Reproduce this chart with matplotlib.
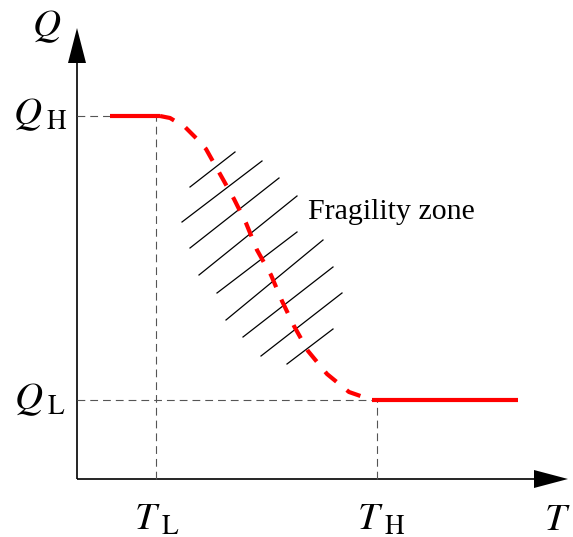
import matplotlib
matplotlib.use("Agg")
import matplotlib.pyplot as plt

plt.rcParams['mathtext.fontset'] = 'stix'

# key levels (units: px from origin of the drawn axes)
T_L, T_H = 79, 300
Q_H, Q_L = 363, 79
x_max, y_max = 491, 451

# Q(T) curve: flat at Q_H, fragile transition (dashed), flat at Q_L
left_x = [33, 83]
right_x = [295, 441]
trans_x = [83, 93, 108, 121, 129, 143, 157, 169, 180, 194, 205, 217, 231, 250, 272, 295]
trans_y = [363, 361, 352, 339, 330, 305, 280, 256, 229, 204, 178, 153, 128, 105, 87, 79]

# hatch segments of the fragility zone
hatch_x0 = [113, 105, 113, 122, 140, 149, 166, 184, 210]
hatch_y0 = [292, 257, 231, 204, 186, 159, 142, 123, 115]
hatch_x1 = [158, 185, 202, 220, 220, 246, 256, 265, 256]
hatch_y1 = [327, 318, 301, 283, 247, 239, 212, 186, 150]

fig = plt.figure(figsize=(5.73, 5.37), dpi=100)
ax = fig.add_axes([0, 0, 1, 1])
ax.set_xlim(-77, 496)
ax.set_ylim(-58, 479)
ax.axis('off')

# axes with arrow heads
ax.plot([0, x_max - 34], [0, 0], color='black', lw=1.2, solid_capstyle='butt')
ax.plot([0, 0], [0, y_max - 35], color='black', lw=1.2, solid_capstyle='butt')
ax.fill([x_max - 34, x_max, x_max - 34], [-9, 0, 9], color='black', lw=0)
ax.fill([-9, 0, 9], [y_max - 35, y_max, y_max - 35], color='black', lw=0)

# guide lines
gkw = dict(color='#555555', lw=0.8, dashes=(7, 4.5))
ax.plot([0, left_x[0]], [Q_H, Q_H], **gkw)
ax.plot([T_L, T_L], [0, Q_H], **gkw)
ax.plot([0, right_x[0]], [Q_L, Q_L], **gkw)
ax.plot([T_H, T_H], [0, Q_L], **gkw)

# hatching
for a, b, c, d in zip(hatch_x0, hatch_y0, hatch_x1, hatch_y1):
    ax.plot([a, c], [b, d], color='black', lw=0.9)

# red curve
ax.plot(left_x, [Q_H, Q_H], color='red', lw=3, solid_capstyle='butt')
ax.plot(right_x, [Q_L, Q_L], color='red', lw=3, solid_capstyle='butt')
ax.plot(trans_x, trans_y, color='red', lw=3, dashes=(3.6, 3.2))

# labels
fs = 28
ax.text(-30, 453, r'$Q$', fontsize=fs, ha='center', va='center')
ax.text(-37, 365, r'$Q_{\;\mathrm{H}}$', fontsize=fs, ha='center', va='center')
ax.text(-37, 80, r'$Q_{\;\mathrm{L}}$', fontsize=fs, ha='center', va='center')
ax.text(T_L + 1, -40, r'$T_{\;\mathrm{L}}$', fontsize=fs, ha='center', va='center')
ax.text(T_H + 4, -40, r'$T_{\;\mathrm{H}}$', fontsize=fs, ha='center', va='center')
ax.text(480, -40, r'$T$', fontsize=fs, ha='center', va='center')
ax.text(231, 267, 'Fragility zone', fontsize=21.5, family='Liberation Serif',
        ha='left', va='center')

fig.savefig('out.png', dpi=100)
